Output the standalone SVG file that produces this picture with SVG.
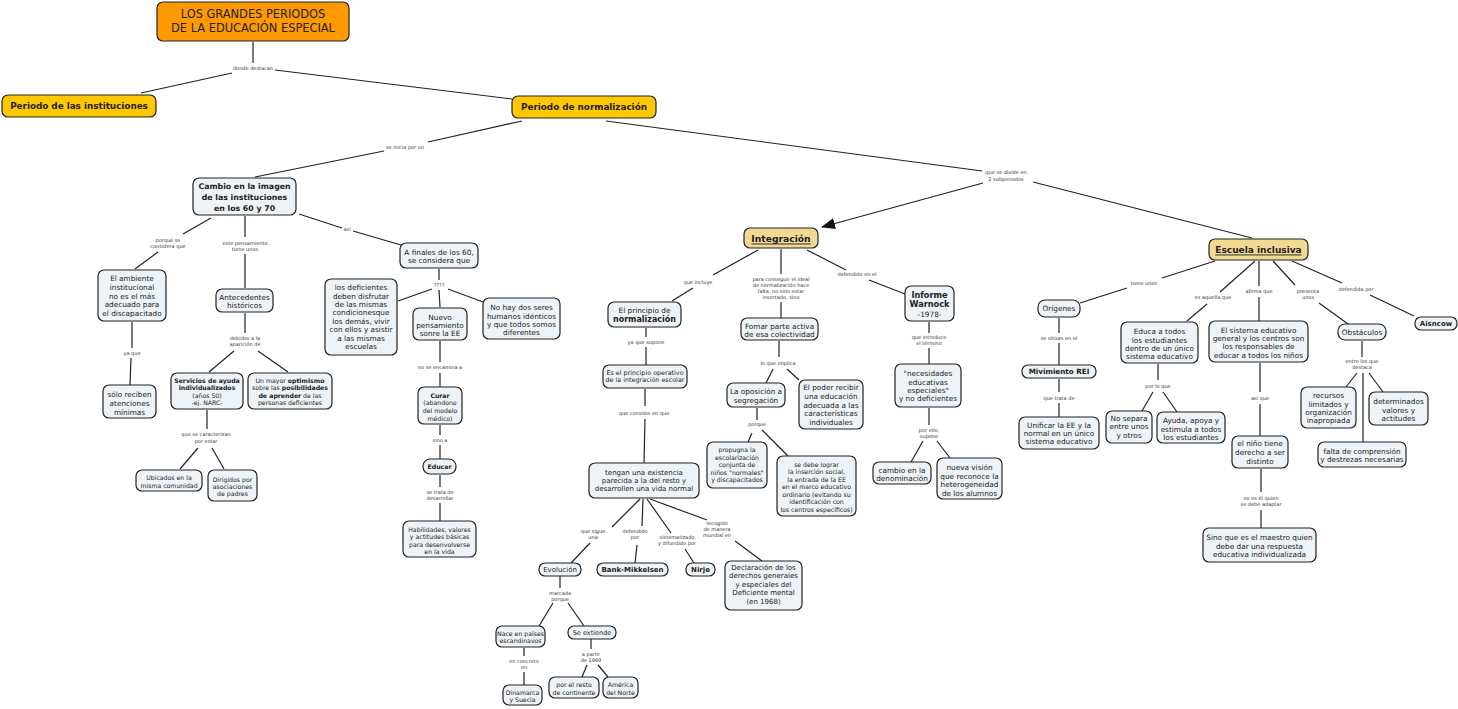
<svg xmlns="http://www.w3.org/2000/svg" width="1458" height="709" viewBox="0 0 1458 709">
<style>
text{font-family:"DejaVu Sans",Verdana,sans-serif;text-anchor:middle;dominant-baseline:central;fill:#222}
.n rect{fill:#EDF3F6;stroke:#222;stroke-width:1.2}
.t{font-size:7.3px}
.s{font-size:6.2px}
.m{font-size:7px}
.l{font-size:5px;fill:#333}
.b{font-weight:bold}
.u{text-decoration:underline}
#links line{stroke:#222;stroke-width:1.2}
</style>
<defs>
<marker id="arr" markerUnits="userSpaceOnUse" markerWidth="14" markerHeight="11" refX="13" refY="5.5" orient="auto"><path d="M0,0 L14,5.5 L0,11 z" fill="#111"/></marker>
</defs>
<rect width="1458" height="709" fill="#fff"/>
<g id="links">
<line x1="253" y1="42" x2="253" y2="63"/>
<line x1="232" y1="73" x2="141" y2="93"/>
<line x1="275" y1="70" x2="512" y2="99"/>
<line x1="522" y1="121" x2="428" y2="142"/>
<line x1="384" y1="151" x2="255" y2="177"/>
<line x1="606" y1="121" x2="982" y2="171"/>
<line x1="983" y1="183" x2="822" y2="227" marker-end="url(#arr)"/>
<line x1="1033" y1="182" x2="1252" y2="238"/>
<line x1="211" y1="218" x2="183" y2="234"/>
<line x1="158" y1="252" x2="135" y2="269"/>
<line x1="245" y1="216" x2="245" y2="237"/>
<line x1="245" y1="254" x2="245" y2="288"/>
<line x1="299" y1="214" x2="342" y2="228"/>
<line x1="353" y1="231" x2="401" y2="245"/>
<line x1="132" y1="322" x2="132" y2="348"/>
<line x1="131" y1="358" x2="130" y2="385"/>
<line x1="245" y1="313" x2="245" y2="333"/>
<line x1="234" y1="351" x2="209" y2="372"/>
<line x1="258" y1="351" x2="288" y2="372"/>
<line x1="207" y1="410" x2="207" y2="429"/>
<line x1="198" y1="448" x2="180" y2="469"/>
<line x1="212" y1="448" x2="224" y2="469"/>
<line x1="439" y1="269" x2="439" y2="280"/>
<line x1="432" y1="289" x2="398" y2="301"/>
<line x1="439" y1="290" x2="440" y2="307"/>
<line x1="448" y1="289" x2="483" y2="302"/>
<line x1="440" y1="341" x2="440" y2="362"/>
<line x1="440" y1="373" x2="440" y2="387"/>
<line x1="440" y1="425" x2="440" y2="435"/>
<line x1="440" y1="445" x2="440" y2="459"/>
<line x1="440" y1="475" x2="440" y2="487"/>
<line x1="440" y1="503" x2="440" y2="521"/>
<line x1="758" y1="250" x2="713" y2="275"/>
<line x1="693" y1="288" x2="672" y2="301"/>
<line x1="781" y1="249" x2="781" y2="274"/>
<line x1="781" y1="302" x2="781" y2="318"/>
<line x1="807" y1="250" x2="846" y2="270"/>
<line x1="869" y1="280" x2="905" y2="294"/>
<line x1="646" y1="328" x2="646" y2="337"/>
<line x1="646" y1="347" x2="646" y2="365"/>
<line x1="645" y1="389" x2="645" y2="406"/>
<line x1="645" y1="419" x2="644" y2="463"/>
<line x1="640" y1="499" x2="612" y2="527"/>
<line x1="590" y1="543" x2="571" y2="563"/>
<line x1="643" y1="499" x2="642" y2="526"/>
<line x1="637" y1="545" x2="635" y2="563"/>
<line x1="647" y1="499" x2="671" y2="533"/>
<line x1="685" y1="549" x2="694" y2="563"/>
<line x1="650" y1="499" x2="707" y2="520"/>
<line x1="735" y1="541" x2="762" y2="561"/>
<line x1="560" y1="576" x2="560" y2="588"/>
<line x1="553" y1="603" x2="539" y2="626"/>
<line x1="568" y1="603" x2="584" y2="626"/>
<line x1="524" y1="648" x2="524" y2="656"/>
<line x1="524" y1="672" x2="524" y2="685"/>
<line x1="591" y1="639" x2="591" y2="649"/>
<line x1="587" y1="665" x2="582" y2="677"/>
<line x1="598" y1="665" x2="608" y2="677"/>
<line x1="779" y1="341" x2="779" y2="357"/>
<line x1="773" y1="369" x2="766" y2="383"/>
<line x1="787" y1="369" x2="799" y2="380"/>
<line x1="757" y1="408" x2="757" y2="420"/>
<line x1="752" y1="433" x2="748" y2="442"/>
<line x1="762" y1="430" x2="788" y2="456"/>
<line x1="929" y1="322" x2="929" y2="333"/>
<line x1="929" y1="348" x2="929" y2="364"/>
<line x1="929" y1="408" x2="929" y2="425"/>
<line x1="923" y1="441" x2="911" y2="462"/>
<line x1="937" y1="441" x2="950" y2="458"/>
<line x1="1215" y1="261" x2="1162" y2="278"/>
<line x1="1127" y1="288" x2="1080" y2="303"/>
<line x1="1255" y1="261" x2="1220" y2="292"/>
<line x1="1207" y1="304" x2="1187" y2="321"/>
<line x1="1259" y1="261" x2="1259" y2="286"/>
<line x1="1259" y1="297" x2="1259" y2="321"/>
<line x1="1273" y1="261" x2="1295" y2="285"/>
<line x1="1319" y1="303" x2="1348" y2="324"/>
<line x1="1292" y1="261" x2="1342" y2="283"/>
<line x1="1370" y1="295" x2="1414" y2="316"/>
<line x1="1059" y1="318" x2="1059" y2="333"/>
<line x1="1059" y1="343" x2="1059" y2="365"/>
<line x1="1059" y1="379" x2="1059" y2="392"/>
<line x1="1059" y1="403" x2="1059" y2="417"/>
<line x1="1158" y1="364" x2="1158" y2="380"/>
<line x1="1153" y1="392" x2="1142" y2="411"/>
<line x1="1163" y1="392" x2="1177" y2="412"/>
<line x1="1260" y1="363" x2="1260" y2="392"/>
<line x1="1260" y1="404" x2="1260" y2="436"/>
<line x1="1261" y1="469" x2="1261" y2="492"/>
<line x1="1261" y1="510" x2="1261" y2="528"/>
<line x1="1362" y1="341" x2="1362" y2="357"/>
<line x1="1357" y1="373" x2="1346" y2="387"/>
<line x1="1363" y1="373" x2="1363" y2="442"/>
<line x1="1369" y1="373" x2="1383" y2="392"/>
</g>
<g id="link-labels">
<text class="l" x="253" y="68">donde destacan</text>
<text class="l" x="405" y="147">se inicia por un</text>
<text class="l" x="1006" y="172">que se divide en</text>
<text class="l" x="1006" y="179">2 subperiodos</text>
<text class="l" x="168" y="240">porque se</text>
<text class="l" x="168" y="246">considera que</text>
<text class="l" x="245" y="243">este pensamiento</text>
<text class="l" x="245" y="249">tiene unos</text>
<text class="l" x="347" y="229">así</text>
<text class="l" x="132" y="353">ya que</text>
<text class="l" x="245" y="338">debidos a la</text>
<text class="l" x="245" y="344">aparición de</text>
<text class="l" x="206" y="434">que se caracterizan</text>
<text class="l" x="206" y="441">por estar</text>
<text class="l" x="439" y="285">????</text>
<text class="l" x="440" y="367">no se encamina a</text>
<text class="l" x="440" y="440">sino a</text>
<text class="l" x="440" y="492">se trata de</text>
<text class="l" x="440" y="498">desarrollar</text>
<text class="l" x="698" y="282">que incluye</text>
<text class="l" x="781" y="279">para conseguir el ideal</text>
<text class="l" x="781" y="285">de normalización hace</text>
<text class="l" x="781" y="291">falta, no solo estar</text>
<text class="l" x="781" y="297">insertado, sino</text>
<text class="l" x="857" y="274">defendido en el</text>
<text class="l" x="646" y="342">ya que supone</text>
<text class="l" x="644" y="413">que consiste en que</text>
<text class="l" x="593" y="531">que sigue</text>
<text class="l" x="593" y="537">una</text>
<text class="l" x="635" y="531">defendido</text>
<text class="l" x="635" y="537">por</text>
<text class="l" x="677" y="537">sistematizado</text>
<text class="l" x="677" y="543">y difundido por</text>
<text class="l" x="717" y="523">recogido</text>
<text class="l" x="717" y="529">de manera</text>
<text class="l" x="717" y="535">mundial en</text>
<text class="l" x="560" y="593">marcada</text>
<text class="l" x="560" y="599">porque</text>
<text class="l" x="524" y="661">en concreto</text>
<text class="l" x="524" y="667">en</text>
<text class="l" x="591" y="654">a partir</text>
<text class="l" x="591" y="660">de 1969</text>
<text class="l" x="778" y="363">lo que implica</text>
<text class="l" x="757" y="424">porque</text>
<text class="l" x="929" y="337">que introduce</text>
<text class="l" x="929" y="343">el término</text>
<text class="l" x="929" y="430">por ello,</text>
<text class="l" x="929" y="436">supone</text>
<text class="l" x="1144" y="283">tiene unos</text>
<text class="l" x="1213" y="297">es aquella que</text>
<text class="l" x="1259" y="291">afirma que</text>
<text class="l" x="1308" y="291">presenta</text>
<text class="l" x="1308" y="297">unos</text>
<text class="l" x="1356" y="289">defendida por</text>
<text class="l" x="1059" y="338">se sitúan en el</text>
<text class="l" x="1059" y="398">que trata de</text>
<text class="l" x="1158" y="386">por lo que</text>
<text class="l" x="1260" y="398">así que</text>
<text class="l" x="1261" y="498">no es él quien</text>
<text class="l" x="1261" y="504">se debe adaptar</text>
<text class="l" x="1362" y="361">entre los que</text>
<text class="l" x="1362" y="367">destaca</text>
</g>
<g id="titulo"><rect x="157" y="2" width="192" height="39" rx="6" fill="#FF9900" stroke="#222" stroke-width="1.2"/><text style="font-size:11.4px"><tspan x="253" y="14">LOS GRANDES PERIODOS</tspan><tspan x="253" y="28">DE LA EDUCACIÓN ESPECIAL</tspan></text></g>
<g id="periodo-instituciones"><rect x="2" y="95" width="154" height="22" rx="6" fill="#FFC800" stroke="#222" stroke-width="1.2"/><text class="b" style="font-size:8.8px" x="79" y="106">Periodo de las instituciones</text></g>
<g id="periodo-normalizacion"><rect x="512" y="96" width="144" height="22" rx="6" fill="#FFC800" stroke="#222" stroke-width="1.2"/><text class="b" style="font-size:8.8px" x="584" y="107">Periodo de normalización</text></g>
<g id="cambio" class="n"><rect x="193" y="178" width="103" height="37" rx="6"/><text class="b" style="font-size:7.8px"><tspan x="244.5" y="186">Cambio en la imagen</tspan><tspan x="244.5" y="197">de las instituciones</tspan><tspan x="244.5" y="208">en los 60 y 70</tspan></text></g>
<g id="ambiente" class="n"><rect x="98" y="270" width="68" height="51" rx="6"/><text class="t"><tspan x="132" y="278">El ambiente</tspan><tspan x="132" y="287">institucional</tspan><tspan x="132" y="295.5">no es el más</tspan><tspan x="132" y="304">adecuado para</tspan><tspan x="132" y="313">el discapacitado</tspan></text></g>
<g id="solo-reciben" class="n"><rect x="103" y="385" width="53" height="33" rx="6"/><text class="t"><tspan x="129.5" y="394">sólo reciben</tspan><tspan x="129.5" y="403">atenciones</tspan><tspan x="129.5" y="411.5">mínimas</tspan></text></g>
<g id="antecedentes" class="n"><rect x="216" y="289" width="57" height="23" rx="6"/><text class="t"><tspan x="244.5" y="296.5">Antecedentes</tspan><tspan x="244.5" y="305">históricos</tspan></text></g>
<g id="servicios" class="n"><rect x="171" y="373" width="72" height="36" rx="6"/><text class="s"><tspan class="b" x="207" y="379.5">Servicios de ayuda</tspan><tspan class="b" x="207" y="387">individualizados</tspan><tspan x="207" y="394.5">(años 50)</tspan><tspan x="207" y="402">-ej. NARC-</tspan></text></g>
<g id="optimismo" class="n"><rect x="248" y="373" width="84" height="36" rx="6"/><text class="s"><tspan x="290" y="379.5">Un mayor <tspan class="b">optimismo</tspan></tspan><tspan x="290" y="387">sobre las <tspan class="b">posibilidades</tspan></tspan><tspan x="290" y="394.5"><tspan class="b">de aprender</tspan> de las</tspan><tspan x="290" y="402">personas deficientes</tspan></text></g>
<g id="ubicados" class="n"><rect x="136" y="470" width="66" height="21" rx="6"/><text class="s"><tspan x="169" y="477">Ubicados en la</tspan><tspan x="169" y="484.5">misma comunidad</tspan></text></g>
<g id="dirigidos" class="n"><rect x="208" y="470" width="49" height="31" rx="6"/><text class="s"><tspan x="232.5" y="478.5">Dirigidos por</tspan><tspan x="232.5" y="485.5">asociaciones</tspan><tspan x="232.5" y="493">de padres</tspan></text></g>
<g id="a-finales" class="n"><rect x="400" y="243" width="78" height="25" rx="6"/><text class="t"><tspan x="439" y="251.5">A finales de los 60,</tspan><tspan x="439" y="260">se considera que</tspan></text></g>
<g id="los-deficientes" class="n"><rect x="325" y="279" width="72" height="76" rx="6"/><text class="t"><tspan x="361" y="287">los deficientes</tspan><tspan x="361" y="295.5">deben disfrutar</tspan><tspan x="361" y="303.5">de las mismas</tspan><tspan x="361" y="312">condicionesque</tspan><tspan x="361" y="320.5">los demás, vivir</tspan><tspan x="361" y="329">con ellos y asistir</tspan><tspan x="361" y="337.5">a las mismas</tspan><tspan x="361" y="346">escuelas</tspan></text></g>
<g id="nuevo" class="n"><rect x="413" y="308" width="54" height="32" rx="6"/><text class="t"><tspan x="440" y="316.5">Nuevo</tspan><tspan x="440" y="325">pensamiento</tspan><tspan x="440" y="333">sonre la EE</tspan></text></g>
<g id="no-hay" class="n"><rect x="483" y="298" width="77" height="41" rx="6"/><text class="t"><tspan x="521.5" y="307">No hay dos seres</tspan><tspan x="521.5" y="315.5">humanos idénticos</tspan><tspan x="521.5" y="324">y que todos somos</tspan><tspan x="521.5" y="332">diferentes</tspan></text></g>
<g id="curar" class="n"><rect x="418" y="387" width="44" height="37" rx="6"/><text class="s"><tspan class="b" x="440" y="394.5">Curar</tspan><tspan x="440" y="402">(abandono</tspan><tspan x="440" y="410">del modelo</tspan><tspan x="440" y="417.5">médico)</tspan></text></g>
<g id="educar" class="n"><rect x="423" y="459" width="33" height="15" rx="7"/><text class="b" style="font-size:6.2px" x="439.5" y="466.5">Educar</text></g>
<g id="habilidades" class="n"><rect x="403" y="521" width="73" height="36" rx="6"/><text class="s"><tspan x="439.5" y="528.5">Habilidades, valores</tspan><tspan x="439.5" y="536">y actitudes básicas</tspan><tspan x="439.5" y="543.5">para desenvolverse</tspan><tspan x="439.5" y="551">en la vida</tspan></text></g>
<g id="integracion"><rect x="744" y="228" width="74" height="20" rx="6" fill="#F1D994" stroke="#222" stroke-width="1.2"/><text class="b u" style="font-size:9.2px" x="781" y="238">Integración</text></g>
<g id="principio" class="n"><rect x="608" y="302" width="73" height="25" rx="6"/><text><tspan class="t" x="644.5" y="310">El principio de</tspan><tspan class="b" style="font-size:8px" x="644.5" y="319">normalización</tspan></text></g>
<g id="principio-operativo" class="n"><rect x="603" y="365" width="84" height="23" rx="6"/><text style="font-size:6.4px"><tspan x="645" y="372.5">Es el principio operativo</tspan><tspan x="645" y="380">de la integración escolar</tspan></text></g>
<g id="tengan" class="n"><rect x="589" y="463" width="110" height="35" rx="6"/><text class="m"><tspan x="644" y="472.5">tengan una existencia</tspan><tspan x="644" y="480.5">parecida a la del resto y</tspan><tspan x="644" y="488.5">desarrollen una vida normal</tspan></text></g>
<g id="evolucion" class="n"><rect x="539" y="563" width="42" height="13" rx="6"/><text class="m" x="560" y="569.5">Evolución</text></g>
<g id="bank" class="n"><rect x="597" y="563" width="71" height="13" rx="6"/><text class="m b" x="632.5" y="569.5">Bank-Mikkelsen</text></g>
<g id="nirje" class="n"><rect x="686" y="563" width="29" height="13" rx="6"/><text class="m b" x="700.5" y="569.5">Nirje</text></g>
<g id="declaracion" class="n"><rect x="725" y="561" width="77" height="49" rx="6"/><text class="m"><tspan x="763.5" y="567.5">Declaración de los</tspan><tspan x="763.5" y="576">derechos generales</tspan><tspan x="763.5" y="584.5">y especiales del</tspan><tspan x="763.5" y="593">Deficiente mental</tspan><tspan x="763.5" y="601.5">(en 1968)</tspan></text></g>
<g id="nace" class="n"><rect x="496" y="626" width="49" height="21" rx="6"/><text class="s"><tspan x="520.5" y="632.5">Nace en países</tspan><tspan x="520.5" y="640">escandinavos</tspan></text></g>
<g id="se-extiende" class="n"><rect x="568" y="626" width="48" height="13" rx="6"/><text style="font-size:6.5px" x="592" y="632.5">Se extiende</text></g>
<g id="dinamarca" class="n"><rect x="503" y="685" width="39" height="20" rx="6"/><text class="s"><tspan x="522.5" y="691.5">Dinamarca</tspan><tspan x="522.5" y="699">y Suecia</tspan></text></g>
<g id="resto" class="n"><rect x="549" y="677" width="50" height="21" rx="6"/><text class="s"><tspan x="574" y="684">por el resto</tspan><tspan x="574" y="691.5">de continente</tspan></text></g>
<g id="america" class="n"><rect x="603" y="677" width="35" height="21" rx="6"/><text class="s"><tspan x="620.5" y="684">América</tspan><tspan x="620.5" y="691.5">del Norte</tspan></text></g>
<g id="fomar" class="n"><rect x="741" y="318" width="77" height="22" rx="6"/><text class="t"><tspan x="779.5" y="325.5">Fomar parte activa</tspan><tspan x="779.5" y="334">de esa colectividad</tspan></text></g>
<g id="oposicion" class="n"><rect x="727" y="383" width="58" height="24" rx="6"/><text class="t"><tspan x="756" y="391">La oposición a</tspan><tspan x="756" y="399.5">segregación</tspan></text></g>
<g id="poder" class="n"><rect x="799" y="380" width="64" height="49" rx="6"/><text class="t"><tspan x="831" y="387">El poder recibir</tspan><tspan x="831" y="396">una educación</tspan><tspan x="831" y="404.5">adecuada a las</tspan><tspan x="831" y="413">características</tspan><tspan x="831" y="421.5">individuales</tspan></text></g>
<g id="propugna" class="n"><rect x="707" y="442" width="60" height="46" rx="6"/><text class="s"><tspan x="737" y="449">propugna la</tspan><tspan x="737" y="456.5">escolarización</tspan><tspan x="737" y="464">conjunta de</tspan><tspan x="737" y="471.5">niños "normales"</tspan><tspan x="737" y="479">y discapacitados</tspan></text></g>
<g id="se-debe-lograr" class="n"><rect x="777" y="456" width="79" height="60" rx="6"/><text class="s"><tspan x="816.5" y="463.5">se debe lograr</tspan><tspan x="816.5" y="471">la inserción social,</tspan><tspan x="816.5" y="478.5">la entrada de la EE</tspan><tspan x="816.5" y="486">en el marco educativo</tspan><tspan x="816.5" y="493.5">ordinario (evitando su</tspan><tspan x="816.5" y="501">identificación con</tspan><tspan x="816.5" y="508.5">los centros específicos)</tspan></text></g>
<g id="warnock" class="n"><rect x="905" y="286" width="49" height="35" rx="6"/><text><tspan class="b" style="font-size:8.2px" x="929.5" y="294.5">Informe</tspan><tspan class="b" style="font-size:8.2px" x="929.5" y="304">Warnock</tspan><tspan class="t" x="929.5" y="313.5">-1978-</tspan></text></g>
<g id="necesidades" class="n"><rect x="895" y="364" width="66" height="43" rx="6"/><text class="t"><tspan x="928" y="373">"necesidades</tspan><tspan x="928" y="381.5">educativas</tspan><tspan x="928" y="389.5">especiales"</tspan><tspan x="928" y="398">y no deficientes</tspan></text></g>
<g id="cambio-denominacion" class="n"><rect x="873" y="462" width="58" height="22" rx="6"/><text class="t"><tspan x="902" y="469.5">cambio en la</tspan><tspan x="902" y="478">denominación</tspan></text></g>
<g id="nueva-vision" class="n"><rect x="937" y="458" width="65" height="41" rx="6"/><text class="t"><tspan x="969.5" y="467">nueva visión</tspan><tspan x="969.5" y="475.5">que reconoce la</tspan><tspan x="969.5" y="484">heterogeneidad</tspan><tspan x="969.5" y="492.5">de los alumnos</tspan></text></g>
<g id="escuela-inclusiva"><rect x="1209" y="239" width="99" height="21" rx="6" fill="#F1D994" stroke="#222" stroke-width="1.2"/><text class="b u" style="font-size:9px" x="1258.5" y="249.5">Escuela inclusiva</text></g>
<g id="origenes" class="n"><rect x="1038" y="300" width="42" height="17" rx="7"/><text class="t" x="1059" y="308.5">Orígenes</text></g>
<g id="rei" class="n"><rect x="1022" y="365" width="74" height="13" rx="6"/><text class="b" style="font-size:7.2px" x="1059" y="371.5">Mivimiento REI</text></g>
<g id="unificar" class="n"><rect x="1019" y="417" width="80" height="32" rx="6"/><text class="t"><tspan x="1059" y="424.5">Unificar la EE y la</tspan><tspan x="1059" y="433">normal en un único</tspan><tspan x="1059" y="441">sistema educativo</tspan></text></g>
<g id="educa" class="n"><rect x="1121" y="322" width="77" height="41" rx="6"/><text class="t"><tspan x="1159.5" y="331">Educa a todos</tspan><tspan x="1159.5" y="339.5">los estudiantes</tspan><tspan x="1159.5" y="348">dentro de un único</tspan><tspan x="1159.5" y="356">sistema educativo</tspan></text></g>
<g id="no-separa" class="n"><rect x="1106" y="411" width="46" height="32" rx="6"/><text class="t"><tspan x="1129" y="418">No separa</tspan><tspan x="1129" y="426">entre unos</tspan><tspan x="1129" y="434.5">y otros</tspan></text></g>
<g id="ayuda" class="n"><rect x="1157" y="412" width="68" height="31" rx="6"/><text class="t"><tspan x="1191" y="420">Ayuda, apoya y</tspan><tspan x="1191" y="428.5">estimula a todos</tspan><tspan x="1191" y="437">los estudiantes</tspan></text></g>
<g id="sistema" class="n"><rect x="1209" y="321" width="99" height="41" rx="6"/><text class="t"><tspan x="1258.5" y="329.5">El sistema educativo</tspan><tspan x="1258.5" y="338">general y los centros son</tspan><tspan x="1258.5" y="346">los responsables de</tspan><tspan x="1258.5" y="354.5">educar a todos los niños</tspan></text></g>
<g id="nino" class="n"><rect x="1232" y="436" width="56" height="32" rx="6"/><text class="t"><tspan x="1260" y="442.5">el niño tiene</tspan><tspan x="1260" y="451.5">derecho a ser</tspan><tspan x="1260" y="460.5">distinto</tspan></text></g>
<g id="maestro" class="n"><rect x="1203" y="528" width="113" height="34" rx="6"/><text class="t"><tspan x="1259.5" y="537">Sino que es el maestro quien</tspan><tspan x="1259.5" y="545.5">debe dar una respuesta</tspan><tspan x="1259.5" y="554">educativa individualizada</tspan></text></g>
<g id="obstaculos" class="n"><rect x="1338" y="324" width="48" height="16" rx="7"/><text class="t" x="1362" y="332">Obstáculos</text></g>
<g id="recursos" class="n"><rect x="1301" y="387" width="55" height="41" rx="6"/><text class="t"><tspan x="1328.5" y="395">recursos</tspan><tspan x="1328.5" y="403.5">limitados y</tspan><tspan x="1328.5" y="412">organización</tspan><tspan x="1328.5" y="420">inapropiada</tspan></text></g>
<g id="determinados" class="n"><rect x="1369" y="392" width="59" height="33" rx="6"/><text class="t"><tspan x="1398.5" y="401">determinados</tspan><tspan x="1398.5" y="409.5">valores y</tspan><tspan x="1398.5" y="418">actitudes</tspan></text></g>
<g id="falta" class="n"><rect x="1318" y="442" width="88" height="25" rx="6"/><text class="t"><tspan x="1362" y="450.5">falta de comprensión</tspan><tspan x="1362" y="459">y destrezas necesarias</tspan></text></g>
<g id="aisncow" class="n"><rect x="1415" y="317" width="42" height="13" rx="6"/><text class="m b" x="1436" y="323.5">Aisncow</text></g>
</svg>
